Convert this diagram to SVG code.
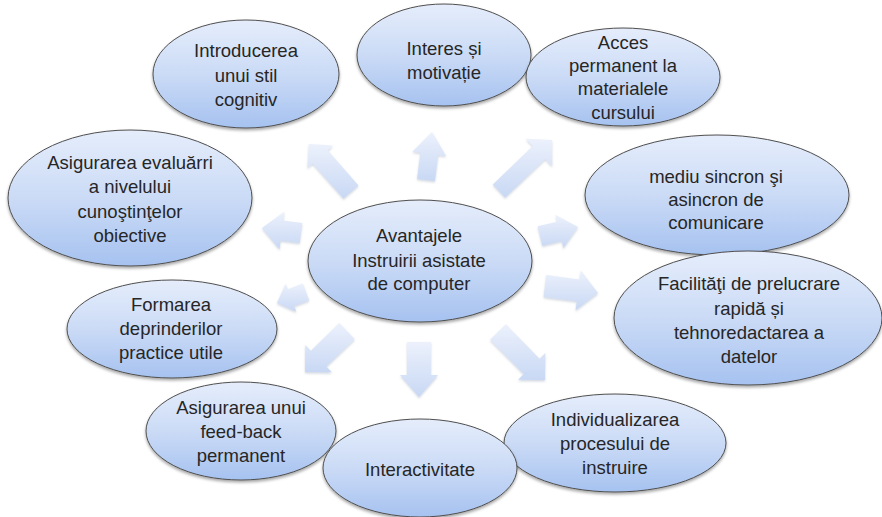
<svg xmlns="http://www.w3.org/2000/svg" width="882" height="517" viewBox="0 0 882 517">
  <defs>
    <linearGradient id="bubbleFill" x1="0" y1="0" x2="0" y2="1">
      <stop offset="0" stop-color="#e5edfb"/>
      <stop offset="0.5" stop-color="#cbdbf6"/>
      <stop offset="1" stop-color="#a6c2f0"/>
    </linearGradient>
    <linearGradient id="arrowFill" x1="0" y1="0" x2="0" y2="1">
      <stop offset="0" stop-color="#ecf1fc"/>
      <stop offset="1" stop-color="#c8d8f4"/>
    </linearGradient>
    <filter id="shadow" x="-10%" y="-10%" width="120%" height="130%">
      <feDropShadow dx="0" dy="2" stdDeviation="1.4" flood-color="#000" flood-opacity="0.35"/>
    </filter>
    <filter id="arrowShadow" x="-20%" y="-20%" width="140%" height="140%">
      <feDropShadow dx="0" dy="1.5" stdDeviation="1.2" flood-color="#7f8fa8" flood-opacity="0.35"/>
    </filter>
  </defs>
  <style>
    .bubble { fill: url(#bubbleFill); stroke: #4f4f4f; stroke-width: 1; filter: url(#shadow); }
    .arrow { fill: url(#arrowFill); stroke: none; filter: url(#arrowShadow); }
    text { font-family: "Liberation Sans", Arial, sans-serif; font-size: 18.5px; fill: #262626; text-anchor: middle; }
  </style>
  <rect width="882" height="517" fill="#ffffff"/>

  <!-- block arrows radiating from the central topic -->
  <g id="connectors">
    <polygon class="arrow" points="358.5,185.4 327.7,150.2 333,145.6 309,144 307.4,168 312.7,163.4 343.5,198.6"/>
    <polygon class="arrow" points="434.9,181.1 438.2,154.9 446.2,155.9 432,132 412.4,151.7 420.4,152.7 417.1,178.9"/>
    <polygon class="arrow" points="505.2,197.5 545.2,159 552.2,166.2 552,140 525.8,138.8 532.8,146 492.8,184.5"/>
    <polygon class="arrow" points="542.3,245.7 561.8,241.1 563.4,247.9 578,227 555.6,214.9 557.2,221.7 537.7,226.3"/>
    <polygon class="arrow" points="543.6,296.9 576.8,301.3 575.6,310.2 598,293 580.8,270.6 579.6,279.5 546.4,275.1"/>
    <polygon class="arrow" points="490.1,339.7 523.8,374.1 518.1,379.7 545,380 545.3,353.1 539.6,358.7 505.9,324.3"/>
    <polygon class="arrow" points="407,342 407,375 400,375 419,397 438,375 431,375 431,342"/>
    <polygon class="arrow" points="339.3,323.1 310.9,350.8 305.3,345.1 305,372 331.9,372.3 326.3,366.6 354.7,338.9"/>
    <polygon class="arrow" points="302.8,283.6 287.8,289.3 285.7,283.7 277,303 296.3,311.7 294.2,306.1 309.2,300.4"/>
    <polygon class="arrow" points="302.3,223.1 283.2,220.6 284.3,211.7 262,228 279.5,249.3 280.6,240.4 299.7,242.9"/>
  </g>

  <g id="node-introducerea">
    <ellipse class="bubble" cx="246" cy="74" rx="93" ry="54"/>
    <text x="246" y="57">Introducerea</text>
    <text x="246" y="81.5">unui stil</text>
    <text x="246" y="106">cognitiv</text>
  </g>

  <g id="node-interes">
    <ellipse class="bubble" cx="444" cy="55" rx="87" ry="51"/>
    <text x="444" y="54.5">Interes și</text>
    <text x="444" y="79">motivație</text>
  </g>

  <g id="node-acces">
    <ellipse class="bubble" cx="623" cy="77" rx="97" ry="49"/>
    <text x="623" y="48.5">Acces</text>
    <text x="623" y="72">permanent la</text>
    <text x="623" y="95">materialele</text>
    <text x="623" y="118.5">cursului</text>
  </g>

  <g id="node-mediu">
    <ellipse class="bubble" cx="717" cy="195" rx="132" ry="60"/>
    <text x="716" y="183">mediu sincron şi</text>
    <text x="716" y="206">asincron de</text>
    <text x="716" y="229">comunicare</text>
  </g>

  <g id="node-facilitati">
    <ellipse class="bubble" cx="748" cy="318" rx="134" ry="67"/>
    <text x="749" y="290">Facilităţi de prelucrare</text>
    <text x="749" y="314.5">rapidă și</text>
    <text x="749" y="339">tehnoredactarea a</text>
    <text x="749" y="363">datelor</text>
  </g>

  <g id="node-individualizarea">
    <ellipse class="bubble" cx="615" cy="443" rx="111" ry="49"/>
    <text x="615" y="425.5">Individualizarea</text>
    <text x="615" y="450">procesului de</text>
    <text x="615" y="474">instruire</text>
  </g>

  <g id="node-feedback">
    <ellipse class="bubble" cx="241" cy="431" rx="95" ry="49"/>
    <text x="241" y="413.5">Asigurarea unui</text>
    <text x="241" y="438">feed-back</text>
    <text x="241" y="462">permanent</text>
  </g>

  <g id="node-interactivitate">
    <ellipse class="bubble" cx="420" cy="468" rx="97" ry="49"/>
    <text x="420" y="475.5">Interactivitate</text>
  </g>

  <g id="node-formarea">
    <ellipse class="bubble" cx="172" cy="329" rx="105" ry="49"/>
    <text x="171" y="310.5">Formarea</text>
    <text x="171" y="335">deprinderilor</text>
    <text x="171" y="359">practice utile</text>
  </g>

  <g id="node-evaluare">
    <ellipse class="bubble" cx="130" cy="198" rx="122" ry="68"/>
    <text x="130" y="168.5">Asigurarea evaluărri</text>
    <text x="130" y="193">a nivelului</text>
    <text x="130" y="218">cunoştinţelor</text>
    <text x="130" y="242">obiective</text>
  </g>

  <g id="node-center">
    <ellipse class="bubble" cx="420" cy="261" rx="112" ry="61"/>
    <text x="419" y="242">Avantajele</text>
    <text x="419" y="266.5">Instruirii asistate</text>
    <text x="419" y="290">de computer</text>
  </g>
</svg>
